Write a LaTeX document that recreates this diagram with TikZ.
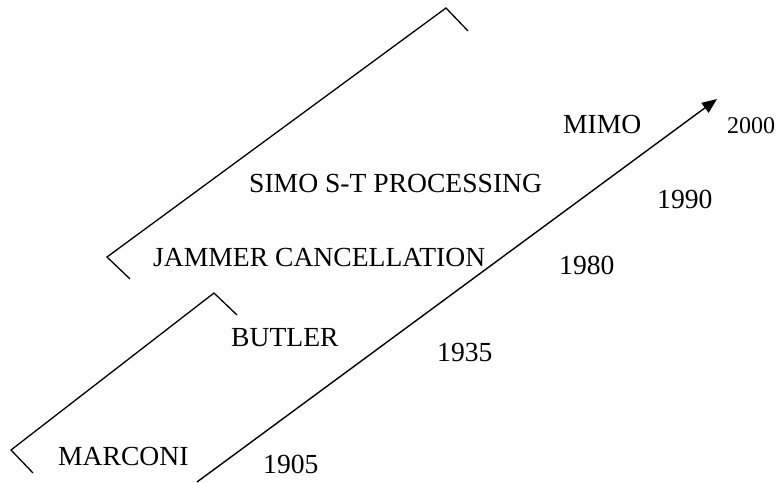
\documentclass[tikz,border=0pt]{standalone}
\usepackage{fontspec}
\setmainfont{Liberation Serif}
\usetikzlibrary{arrows.meta}
\begin{document}
\begin{tikzpicture}[x=1pt,y=1pt,
  label/.style={anchor=base west,inner sep=0pt,font=\fontsize{27.6}{30}\selectfont},
  smalllabel/.style={anchor=base west,inner sep=0pt,font=\fontsize{24}{28}\selectfont},
  bracket/.style={line width=1.3pt},
  timeline/.style={line width=1.4pt,-{Triangle[length=15pt,width=12pt]}}]
\useasboundingbox (0,0) rectangle (778,482);

% time axis
\coordinate (t0) at (197,0);
\coordinate (t1) at (717,383);
\draw[timeline] (t0) -- (t1);

% lower bracket (early era)
\coordinate (la) at (33,9);
\coordinate (lb) at (11,32);
\coordinate (lc) at (214,189);
\coordinate (ld) at (237,167);
\draw[bracket] (la) -- (lb) -- (lc) -- (ld);

% upper bracket (array processing era)
\coordinate (ua) at (130,203);
\coordinate (ub) at (107,225);
\coordinate (uc) at (446,474);
\coordinate (ud) at (468,451);
\draw[bracket] (ua) -- (ub) -- (uc) -- (ud);

% milestones
\node[label] (marconi) at (58,17) {MARCONI};
\node[label] (butler) at (231,136) {BUTLER};
\node[label] (jammer) at (153,215) {JAMMER CANCELLATION};
\node[label] (simo) at (249,289) {SIMO S-T PROCESSING};
\node[label] (mimo) at (563,348) {MIMO};

% years
\node[label] (y1905) at (263,9) {1905};
\node[label] (y1935) at (437,121) {1935};
\node[label] (y1980) at (559,207) {1980};
\node[label] (y1990) at (657,273) {1990};
\node[smalllabel] (y2000) at (727,348) {2000};
\end{tikzpicture}
\end{document}
